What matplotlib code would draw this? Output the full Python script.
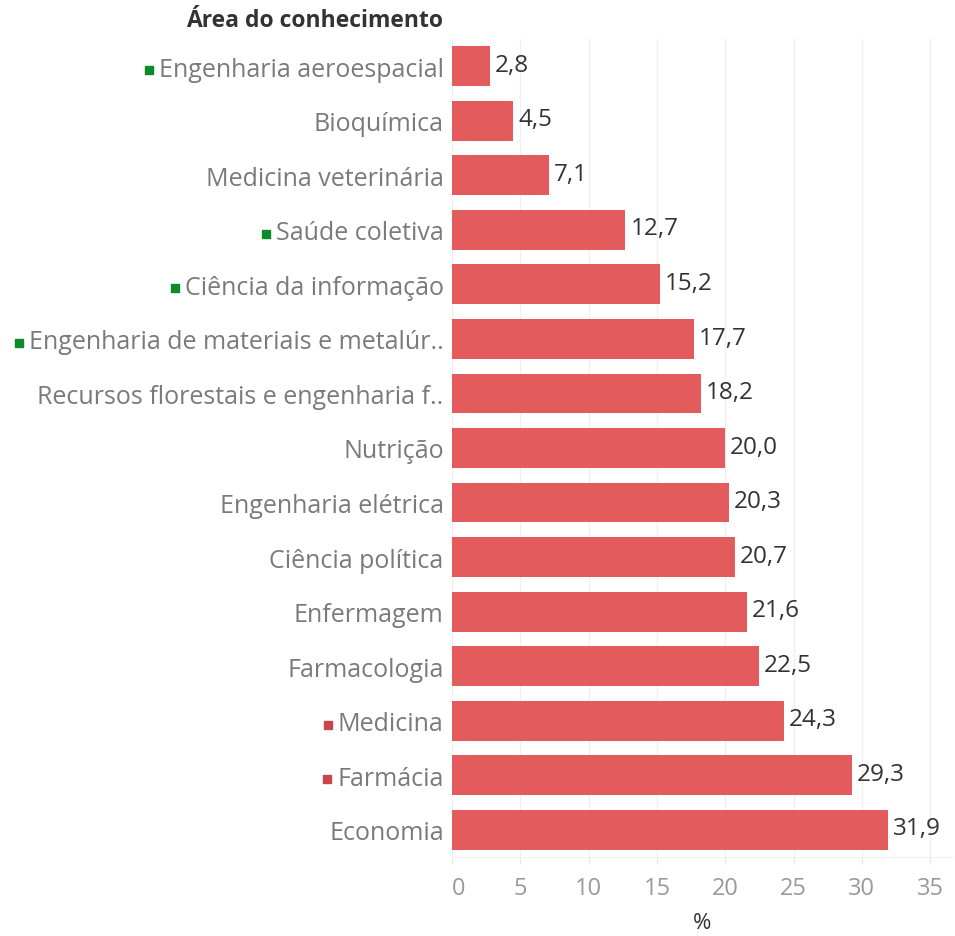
import matplotlib
matplotlib.use("Agg")
import matplotlib.pyplot as plt
from matplotlib.patches import Rectangle

areas = [
    "Engenharia aeroespacial",
    "Bioquímica",
    "Medicina veterinária",
    "Saúde coletiva",
    "Ciência da informação",
    "Engenharia de materiais e metalúr..",
    "Recursos florestais e engenharia f..",
    "Nutrição",
    "Engenharia elétrica",
    "Ciência política",
    "Enfermagem",
    "Farmacologia",
    "Medicina",
    "Farmácia",
    "Economia",
]
values = [2.8, 4.5, 7.1, 12.7, 15.2, 17.7, 18.2, 20.0, 20.3, 20.7, 21.6, 22.5, 24.3, 29.3, 31.9]
# flag colour per area ("" = no flag)
flags = ["green", "", "", "green", "green", "green", "", "", "", "", "", "", "red", "red", ""]
flag_colors = {"green": "#0c8a2c", "red": "#c9474b"}
xticks = [0, 5, 10, 15, 20, 25, 30, 35]

plt.rcParams["font.family"] = ["Open Sans", "DejaVu Sans"]

W, H = 955, 937
fig = plt.figure(figsize=(W / 100, H / 100), dpi=100)
ax = fig.add_axes([452 / W, 1 - 858 / H, 500 / W, 818 / H])

bar_color = "#e35b5d"
ypos = list(range(len(areas)))
ax.barh(ypos, values, height=0.73, color=bar_color, zorder=3)
ax.set_ylim(len(areas) - 0.5, -0.5)
ax.set_xlim(0, 36.6)

for y, v in zip(ypos, values):
    ax.annotate(f"{v:.1f}".replace(".", ","), (v, y), xytext=(3.5, 1),
                textcoords="offset points", va="center", ha="left",
                fontsize=17.5, color="#333333")

ax.set_yticks(ypos)
ax.set_yticklabels(areas, fontsize=18, color="#7a7a7a")
ax.tick_params(axis="y", length=0, pad=6)

ax.set_xticks(xticks)
ax.set_xticklabels([str(t) for t in xticks], fontsize=17, color="#9a9a9a")
ax.tick_params(axis="x", length=5, color="#e6e6e6", pad=9)
ax.get_xticklabels()[0].set_ha("left")

ax.grid(axis="x", color="#f0f0f0", linewidth=1, zorder=0)
for s in ["top", "right"]:
    ax.spines[s].set_visible(False)
ax.spines["left"].set_color("#f0f0f0")
ax.spines["bottom"].set_color("#f0f0f0")

ax.set_xlabel("%", fontsize=16, color="#333333", labelpad=8)

fig.text(443 / W, 1 - 21 / H, "Área do conhecimento", ha="right", va="center",
         fontsize=16.5, fontweight="bold", color="#333333")

# small coloured squares in front of flagged labels
fig.canvas.draw()
renderer = fig.canvas.get_renderer()
for lab, f in zip(ax.get_yticklabels(), flags):
    if not f:
        continue
    bb = lab.get_window_extent(renderer)
    cy = (bb.y0 + bb.y1) / 2 - 1
    size = 8
    x0 = bb.x0 - 6 - size
    fig.patches.append(Rectangle((x0 / W, (cy - size / 2) / H), size / W, size / H,
                                 transform=fig.transFigure, color=flag_colors[f]))

fig.savefig("out.png", dpi=100)
